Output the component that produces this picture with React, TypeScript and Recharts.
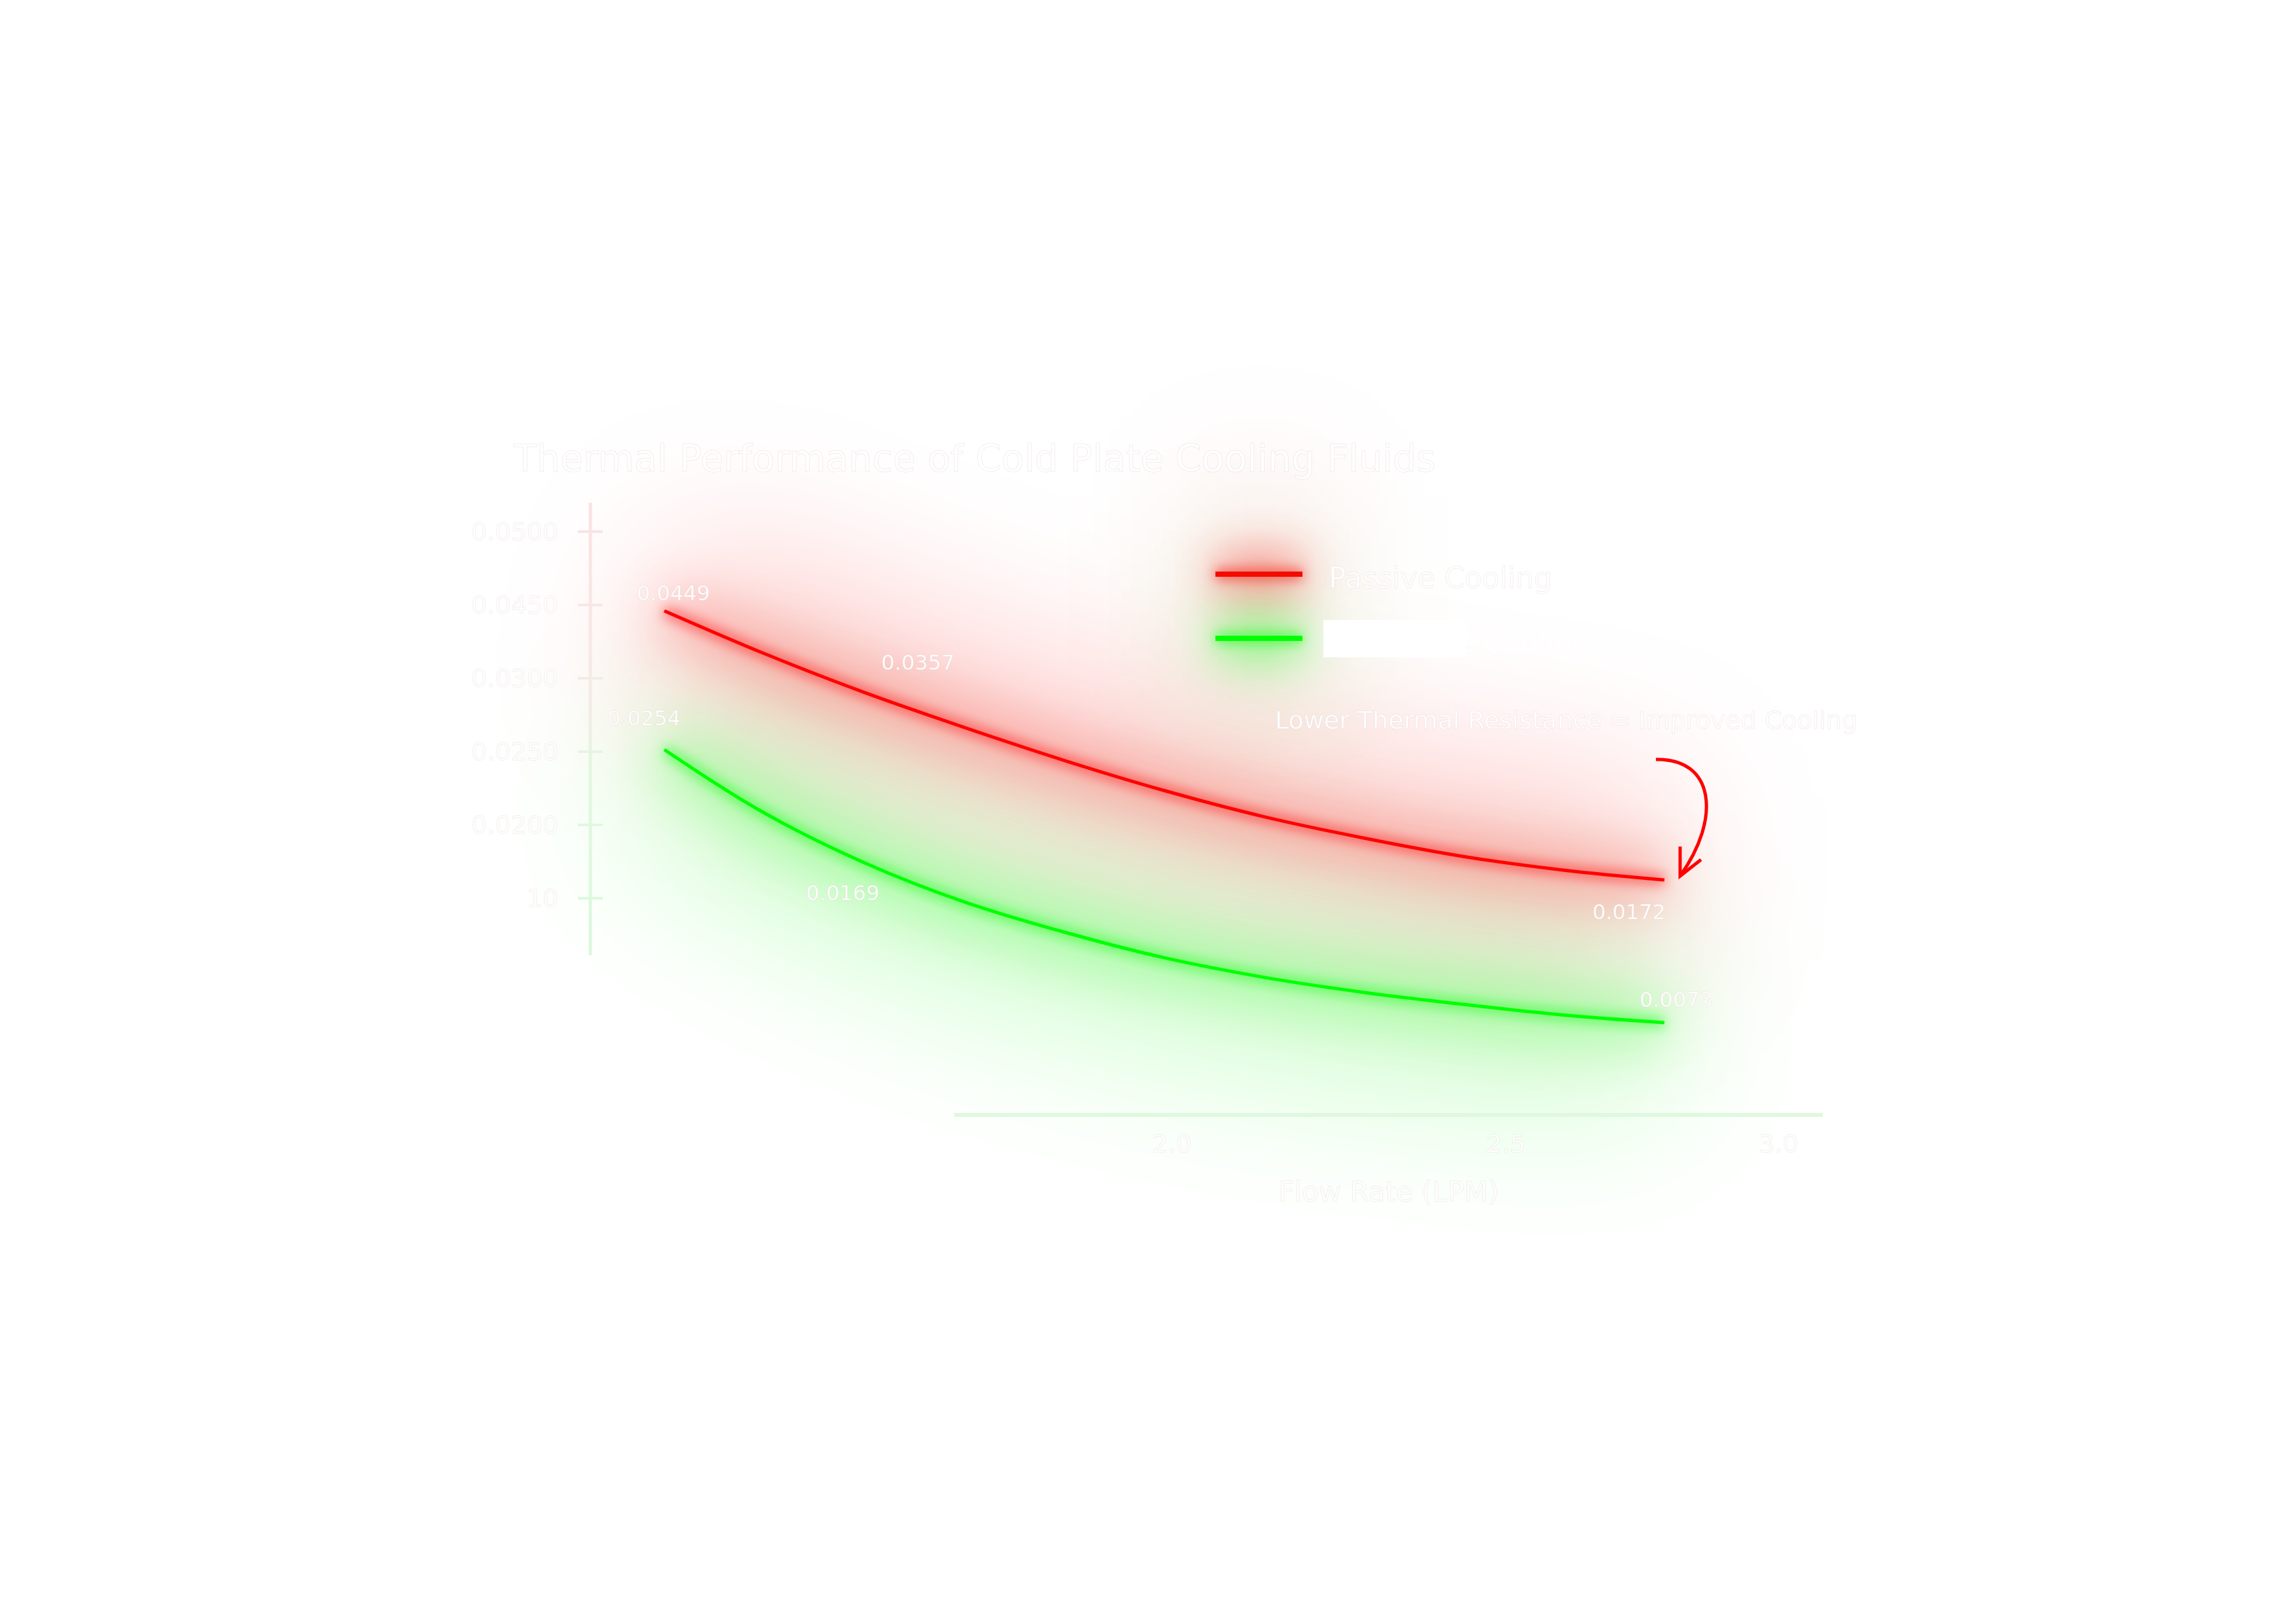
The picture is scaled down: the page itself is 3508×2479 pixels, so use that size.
import React from 'react'
import { LineChart, Line, XAxis, YAxis, Legend, LabelList } from 'recharts'

const W = 3508
const H = 2479
const FONT = '"DejaVu Sans", sans-serif'
const TEXT_EDGE = 'rgba(205,170,170,0.2)'

// flow rate (LPM) samples along the two curves
const flowRates = [0.5, 0.75, 1.0, 1.25, 1.5, 1.75, 2.0, 2.25, 2.5, 2.75, 3.0]
const passiveCooling = [0.0449, 0.0405, 0.0365, 0.0329, 0.0295, 0.0264, 0.0237, 0.0215, 0.0196, 0.0182, 0.0172]
const coldPlateCooling = [0.0254, 0.0212, 0.0179, 0.0153, 0.0133, 0.0116, 0.0103, 0.0093, 0.0085, 0.0078, 0.0073]

// value labels shown on the curves
const labelIndices = [0, 2, 10]
const passiveLabels = ['0.0449', '0.0357', '0.0172']
const coldPlateLabels = ['0.0254', '0.0169', '0.0073']

// axis ticks as printed
const yTickLabels = ['10', '0.0200', '0.0250', '0.0300', '0.0450', '0.0500']
const xTicks = [2.0, 2.5, 3.0]

const seriesOrder = ['passive', 'cold']

const lineData = flowRates.map((flow, i) => ({
  flow,
  passive: passiveCooling[i],
  cold: coldPlateCooling[i],
}))
const yTickRows = yTickLabels.map((_, i) => ({ i }))
const xTickRows = xTicks.map((flow) => ({ flow, v: 0.5 }))

const passiveOffsets = [[14, -27], [82, -46], [-54, 49]]
const coldOffsets = [[-31, -48], [-33, 46], [18, -35]]

function makeLabel(texts: string[], offsets: number[][]) {
  return (props: any) => {
    const k = labelIndices.indexOf(props.index)
    if (k < 0) return null
    return (
      <text
        x={props.x + offsets[k][0]}
        y={props.y + offsets[k][1]}
        textAnchor="middle"
        dominantBaseline="central"
        fontSize={32}
        fontFamily={FONT}
        fill="#ffffff"
        stroke={TEXT_EDGE}
        strokeWidth={1}
      >
        {texts[k]}
      </text>
    )
  }
}

function renderLegend(props: any) {
  const seen = new Set<string>()
  const items = (props.payload || [])
    .filter((p: any) => {
      const k = String(p.dataKey)
      if (p.type === 'none' || seen.has(k) || !seriesOrder.includes(k)) return false
      seen.add(k)
      return true
    })
    .sort((a: any, b: any) => seriesOrder.indexOf(String(a.dataKey)) - seriesOrder.indexOf(String(b.dataKey)))
  return (
    <svg width={700} height={320} style={{ overflow: 'visible' }}>
      <defs>
        <filter id="lgFar" filterUnits="userSpaceOnUse" x="-700" y="-700" width="2100" height="1700">
          <feGaussianBlur stdDeviation="110" />
        </filter>
        <filter id="lgMid" filterUnits="userSpaceOnUse" x="-700" y="-700" width="2100" height="1700">
          <feGaussianBlur stdDeviation="34" />
        </filter>
        <filter id="lgNear" filterUnits="userSpaceOnUse" x="-700" y="-700" width="2100" height="1700">
          <feGaussianBlur stdDeviation="9" />
        </filter>
      </defs>
      {items.map((item: any, i: number) => {
        const y = 137 + i * 98
        return (
          <g key={String(item.dataKey)}>
            <line x1={157} x2={290} y1={y} y2={y} stroke={item.color} strokeWidth={240} strokeOpacity={0.16} filter="url(#lgFar)" />
            <line x1={157} x2={290} y1={y} y2={y} stroke={item.color} strokeWidth={70} strokeOpacity={0.38} filter="url(#lgMid)" />
            <line x1={157} x2={290} y1={y} y2={y} stroke={item.color} strokeWidth={18} strokeOpacity={0.5} filter="url(#lgNear)" />
            <line x1={157} x2={290} y1={y} y2={y} stroke={item.color} strokeWidth={8} />
          </g>
        )
      })}
      {items.map((item: any, i: number) => {
        const y = 137 + i * 98
        return (
          <g key={String(item.dataKey) + 'txt'}>
            {i === 1 && <rect x={322} y={207} width={218} height={57} fill="#ffffff" />}
            <text x={330} y={y + 5} dominantBaseline="central" fontSize={44} fontFamily={FONT}
              fill="#ffffff" stroke={i === 1 ? 'none' : TEXT_EDGE} strokeWidth={1}>
              {item.value}
            </text>
          </g>
        )
      })}
    </svg>
  )
}

function YTick(props: any) {
  const { x, y, payload } = props
  return (
    <g>
      <line x1={x + 30} x2={x + 68} y1={y} y2={y} stroke="url(#yAxisGrad)" strokeWidth={4} />
      <text x={x} y={y} textAnchor="end" dominantBaseline="central" fontSize={38} fontFamily={FONT}
        fill="#ffffff" stroke={TEXT_EDGE} strokeWidth={1}>
        {yTickLabels[payload.value]}
      </text>
    </g>
  )
}

const glowCss = `
.glow-far { filter: url(#blurFar); }
.glow-mid { filter: url(#blurMid); }
.glow-near { filter: url(#blurNear); }
`

export default function App() {
  const layer: React.CSSProperties = { position: 'absolute', left: 0, top: 0 }
  const series = [
    { key: 'passive', color: '#ff0000' },
    { key: 'cold', color: '#00ff00' },
  ]
  return (
    <div style={{ position: 'absolute', left: 0, top: 0, width: W, height: H, background: '#ffffff', overflow: 'hidden', fontFamily: FONT }}>
      <style>{glowCss}</style>

      <div style={layer}>
        <LineChart width={W} height={H} data={lineData} margin={{ top: 700, right: 808, bottom: 779, left: 900 }}>
          <defs>
            <filter id="blurFar" filterUnits="userSpaceOnUse" x="0" y="0" width={W} height={H}>
              <feGaussianBlur stdDeviation="120" />
            </filter>
            <filter id="blurMid" filterUnits="userSpaceOnUse" x="0" y="0" width={W} height={H}>
              <feGaussianBlur stdDeviation="40" />
            </filter>
            <filter id="blurNear" filterUnits="userSpaceOnUse" x="0" y="0" width={W} height={H}>
              <feGaussianBlur stdDeviation="9" />
            </filter>
          </defs>
          <XAxis dataKey="flow" type="number" domain={[0.31185, 3.25688]} hide />
          <YAxis yAxisId="passive" type="number" domain={[-0.006791, 0.060603]} hide />
          <YAxis yAxisId="cold" type="number" domain={[0.00131, 0.044715]} hide />

          {series.map((s) => (
            <Line key={s.key + 'far'} className="glow-far" yAxisId={s.key} type="monotone" dataKey={s.key}
              stroke={s.color} strokeWidth={260} strokeOpacity={0.2} dot={false} activeDot={false}
              legendType="none" isAnimationActive={false} />
          ))}
          {series.map((s) => (
            <Line key={s.key + 'mid'} className="glow-mid" yAxisId={s.key} type="monotone" dataKey={s.key}
              stroke={s.color} strokeWidth={80} strokeOpacity={0.22} dot={false} activeDot={false}
              legendType="none" isAnimationActive={false} />
          ))}
          {series.map((s) => (
            <Line key={s.key + 'near'} className="glow-near" yAxisId={s.key} type="monotone" dataKey={s.key}
              stroke={s.color} strokeWidth={18} strokeOpacity={0.45} dot={false} activeDot={false}
              legendType="none" isAnimationActive={false} />
          ))}

          <Line yAxisId="passive" type="monotone" dataKey="passive" name="Passive Cooling" stroke="#ff0000"
            strokeWidth={5} dot={false} activeDot={false} isAnimationActive={false}>
            <LabelList dataKey="passive" content={makeLabel(passiveLabels, passiveOffsets)} />
          </Line>
          <Line yAxisId="cold" type="monotone" dataKey="cold" name="Cold Plate Cooling" stroke="#00ff00"
            strokeWidth={5} dot={false} activeDot={false} isAnimationActive={false}>
            <LabelList dataKey="cold" content={makeLabel(coldPlateLabels, coldOffsets)} />
          </Line>

          <Legend content={renderLegend} layout="horizontal" verticalAlign="middle" align="center"
            width={700} height={320} wrapperStyle={{ left: 1700, top: 740, width: 700, height: 320 }} />
        </LineChart>
      </div>

      <div style={layer}>
        <LineChart width={W} height={H} data={yTickRows} margin={{ top: 768, right: 2408, bottom: 1020, left: 702 }}>
          <defs>
            <linearGradient id="yAxisGrad" gradientUnits="userSpaceOnUse" x1="0" y1="768" x2="0" y2="1459">
              <stop offset="0%" stopColor="#fae2e2" />
              <stop offset="45%" stopColor="#f5ebe5" />
              <stop offset="60%" stopColor="#e0f8e0" />
              <stop offset="100%" stopColor="#ddf8dd" />
            </linearGradient>
          </defs>
          <XAxis dataKey="i" type="number" domain={[0, 5]} hide />
          <YAxis type="number" domain={[-0.777, 5.393]} ticks={[0, 1, 2, 3, 4, 5]} interval={0} width={200}
            tickSize={0} tickMargin={49} tickLine={false} tick={<YTick />}
            axisLine={{ stroke: 'url(#yAxisGrad)', strokeWidth: 5 }} allowDataOverflow />
          <Line dataKey="i" stroke="transparent" dot={false} activeDot={false} legendType="none" isAnimationActive={false} />
        </LineChart>
      </div>

      <div style={layer}>
        <LineChart width={W} height={H} data={xTickRows} margin={{ top: 1400, right: 723, bottom: 616, left: 1458 }}>
          <XAxis dataKey="flow" type="number" scale="log" domain={[1.729, 3.09]} ticks={xTicks} interval={0}
            height={160} tickSize={0} tickMargin={30} tickLine={false} allowDataOverflow
            tickFormatter={(v: number) => v.toFixed(1)}
            tick={{ fill: '#ffffff', fontSize: 38, fontFamily: FONT, stroke: TEXT_EDGE, strokeWidth: 1 }}
            axisLine={{ stroke: '#dff8df', strokeWidth: 6 }}
            label={{ value: 'Flow Rate (LPM)', position: 'insideBottom', offset: 28, fill: '#ffffff', fontSize: 42, fontFamily: FONT, stroke: TEXT_EDGE, strokeWidth: 1 }} />
          <YAxis type="number" domain={[0, 1]} hide />
          <Line dataKey="v" stroke="transparent" dot={false} activeDot={false} legendType="none" isAnimationActive={false} />
        </LineChart>
      </div>

      <svg width={W} height={H} style={{ ...layer, pointerEvents: 'none' }}>
        <text x={785} y={720} fontSize={57} fontFamily={FONT} fill="#ffffff" stroke={TEXT_EDGE} strokeWidth={1}>
          Thermal Performance of Cold Plate Cooling Fluids
        </text>
        <text x={1948} y={1113} fontSize={38} fontFamily={FONT} fill="#ffffff" stroke={TEXT_EDGE} strokeWidth={1}>
          Lower Thermal Resistance = Improved Cooling
        </text>
        <path d="M2530,1160 C2620,1158 2630,1250 2567,1338" stroke="#ff0000" strokeWidth={5} fill="none" />
        <path d="M2567,1293 L2567,1338 L2599,1313" stroke="#ff0000" strokeWidth={5} fill="none" />
      </svg>
    </div>
  )
}
